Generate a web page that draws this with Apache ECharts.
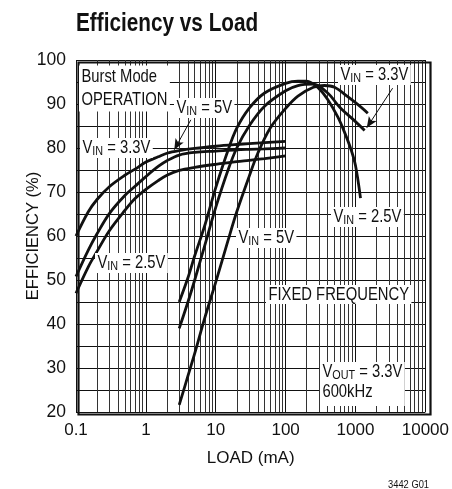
<!DOCTYPE html>
<html>
<head>
<meta charset="utf-8">
<script src="https://cdn.jsdelivr.net/npm/echarts@6/dist/echarts.min.js"></script>
<style>
  html, body { margin: 0; padding: 0; background: #fff; }
  #chart { width: 452px; height: 489px; }
</style>
</head>
<body>
<div id="chart"></div>
<script>
// Burst Mode curves (0.1 mA .. 100 mA)
const burstLoad = [0.1, 0.15, 0.2, 0.3, 0.5, 0.7, 1, 1.5, 2, 3, 5, 10, 20, 30, 50, 100];
const burstA = [60, 65.5, 68.3, 71.2, 73.8, 75.2, 76.8, 78, 78.8, 79.4, 79.9, 80.4, 80.8, 81, 81.2, 81.5];
const burstB = [50.8, 56.8, 60.5, 65.1, 69.2, 71.3, 73.5, 75.8, 77.1, 78.4, 79, 79.3, 79.6, 79.7, 79.8, 80];
const burstC = [47, 53, 56.5, 61.2, 65.8, 68.5, 70.6, 72.6, 73.8, 74.9, 75.6, 76.3, 76.9, 77.2, 77.6, 78.2];

// Fixed frequency curves
const vin25Load = [3, 4, 5, 7, 10, 15, 20, 30, 50, 100, 150, 200, 300, 400, 560, 700, 870, 1000, 1180];
const vin25Eff = [45, 50.5, 55.5, 62.5, 71, 79.5, 84.5, 89, 92.5, 94.7, 95.2, 95.2, 93.5, 91, 87, 83.5, 79.5, 76, 68.6];
const vin33Load = [3, 4, 5, 7, 10, 15, 20, 30, 50, 100, 150, 250, 400, 600, 1000, 1350];
const vin33Eff = [39, 45, 50, 58, 66.5, 75, 80, 85, 89.5, 93, 94.2, 94.5, 92.5, 89.2, 86, 84];
const vin5Load = [3, 4, 5, 7, 10, 15, 20, 30, 40, 60, 100, 150, 250, 360, 500, 800, 1200, 1500];
const vin5Eff = [21.6, 28.2, 33.3, 41.5, 49.5, 59, 65.5, 73.5, 78.8, 84.5, 89, 91.8, 93.8, 94.2, 93.8, 91.5, 89.3, 87.9];

const FONT = "'Liberation Sans', Arial, sans-serif";
const SQ = 0.8; // squeeze to mimic the condensed face

const zip = (xs, ys) => xs.map((x, i) => [x, ys[i]]);

// minor log grid lines 2..9 per decade
const minorX = [];
[0.1, 1, 10, 100, 1000].forEach((d) => {
  for (let k = 2; k <= 9; k++) minorX.push({ xAxis: +(d * k).toPrecision(4) });
});

const chart = echarts.init(document.getElementById("chart"));

const curve = (data) => ({
  type: "line",
  data: data,
  smooth: 0.35,
  showSymbol: false,
  silent: true,
  z: 5,
  lineStyle: { color: "#111", width: 2.8 },
});

const richStyle = {
  a: { fontSize: 18.5, fontFamily: FONT, fill: "#111", lineHeight: 20 },
  s: { fontSize: 13.5, fontFamily: FONT, fill: "#111", verticalAlign: "bottom", lineHeight: 14, padding: [7, 0, 0, 0] },
};
// boxed text drawn squeezed
const note = (x, y, text, extra) => ({
  type: "text",
  x: x,
  y: y,
  scaleX: SQ,
  z: 100,
  style: Object.assign({
    text: text,
    rich: richStyle,
    fontSize: 18.5,
    fontFamily: FONT,
    fill: "#111",
    backgroundColor: "#fff",
    padding: [0, 3],
  }, extra || {}),
});
const vin = (rest) => "{a|V}{s|IN}{a|" + rest + "}";

const option = {
  animation: false,
  backgroundColor: "#fff",
  grid: { left: 76, top: 60, width: 352, height: 352 },
  xAxis: {
    type: "log",
    logBase: 10,
    min: 0.1,
    max: 10000,
    name: "LOAD (mA)",
    nameLocation: "middle",
    nameGap: 38,
    nameTextStyle: { fontSize: 17, fontFamily: FONT, color: "#111" },
    axisLine: { show: false },
    axisTick: { show: false },
    axisLabel: {
      fontSize: 17,
      fontFamily: FONT,
      color: "#111",
      margin: 10,
      formatter: (v) => String(+(+v).toPrecision(6)),
    },
    splitLine: { show: true, lineStyle: { color: "#111", width: 1 } },
  },
  yAxis: {
    type: "value",
    min: 20,
    max: 100,
    interval: 10,
    axisLine: { show: false },
    axisTick: { show: false },
    axisLabel: { fontSize: 17.5, fontFamily: FONT, color: "#111", margin: 10 },
    splitLine: { show: true, lineStyle: { color: "#111", width: 1 } },
    minorTick: { show: false, splitNumber: 2 },
    minorSplitLine: { show: true, lineStyle: { color: "#111", width: 1 } },
  },
  series: [
    {
      type: "line",
      data: [],
      silent: true,
      markLine: {
        silent: true,
        symbol: "none",
        label: { show: false },
        lineStyle: { color: "#333", width: 1, type: "solid" },
        data: minorX,
      },
    },
    curve(zip(burstLoad, burstA)),
    curve(zip(burstLoad, burstB)),
    curve(zip(burstLoad, burstC)),
    curve(zip(vin25Load, vin25Eff)),
    curve(zip(vin33Load, vin33Eff)),
    curve(zip(vin5Load, vin5Eff)),
    {
      // pointer arrows
      type: "line",
      data: [],
      silent: true,
      z: 50,
      markLine: {
        silent: true,
        label: { show: false },
        symbol: ["none", "arrow"],
        symbolSize: [7, 11],
        lineStyle: { color: "#111", width: 1, type: "solid" },
        data: [
          [{ coord: [4.4, 86.4] }, { coord: [2.55, 79.6] }],
          [{ coord: [3400, 93.6] }, { coord: [1450, 84.6] }],
          [{ coord: [1.56, 79.9], symbol: "none" }, { coord: [2.3, 79.9], symbol: "none" }],
        ],
      },
    },
  ],
  graphic: [
    {
      type: "rect",
      left: 76,
      top: 60,
      z: 90,
      shape: { width: 352, height: 352 },
      style: { fill: "none", stroke: "#111", lineWidth: 2.2 },
    },
    {
      type: "text",
      x: 76,
      y: 12,
      scaleX: 0.83,
      style: { text: "Efficiency vs Load", fontSize: 25, fontWeight: "bold", fontFamily: FONT, fill: "#111" },
    },
    {
      // y axis title
      type: "text",
      x: 33,
      y: 236,
      rotation: Math.PI / 2,
      style: {
        text: "EFFICIENCY (%)",
        fontSize: 16.5,
        fontFamily: FONT,
        fill: "#111",
        align: "center",
        verticalAlign: "middle",
      },
    },
    note(79, 65.5, "Burst Mode\nOPERATION", { rich: null, lineHeight: 23 }),
    note(174, 98, vin(" = 5V")),
    note(80, 138, vin(" = 3.3V")),
    note(95, 253, vin(" = 2.5V")),
    note(338, 65, vin(" = 3.3V")),
    note(331, 207, vin(" = 2.5V")),
    note(236, 228, vin(" = 5V")),
    note(266, 285, "FIXED FREQUENCY", { rich: null }),
    note(320, 362, "{a|V}{s|OUT}{a| = 3.3V}\n{a|600kHz}", { padding: [0, 3, 4, 3] }),
    {
      type: "text",
      x: 388,
      y: 479,
      scaleX: 0.85,
      style: { text: "3442 G01", fontSize: 11, fontFamily: FONT, fill: "#111" },
    },
  ],
};

chart.setOption(option);
</script>
</body>
</html>
